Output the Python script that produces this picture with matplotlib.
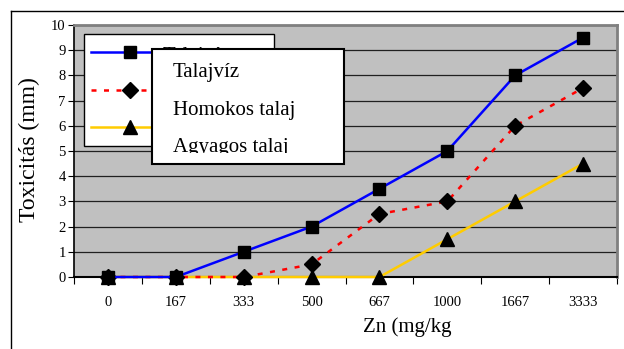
import numpy as np
import matplotlib.pyplot as plt
from matplotlib.patches import Rectangle
from matplotlib.lines import Line2D
from matplotlib.transforms import Bbox, TransformedBbox

plt.rcParams['font.family'] = 'Liberation Serif'

# Zn concentration classes and toxicity values (mm)
zn = ['0', '167', '333', '500', '667', '1000', '1667', '3333']
talajviz = [0, 0, 1, 2, 3.5, 5, 8, 9.5]
homokos = [0, 0, 0, 0.5, 2.5, 3, 6, 7.5]
agyagos = [0, 0, 0, 0, 0, 1.5, 3, 4.5]
names = ['Talajvíz', 'Homokos talaj', 'Agyagos talaj']

W, H = 624, 349
fig = plt.figure(figsize=(W / 100, H / 100), dpi=100)

def fx(px):
    return px / W

def fy(py):
    return 1 - py / H

ax = fig.add_axes([fx(74), fy(277), fx(617) - fx(74), fy(25) - fy(277)])
ax.set_facecolor('#C0C0C0')
x = np.arange(len(zn))

styles = [
    dict(color='#0000FF', ls='-', marker='s', ms=8),
    dict(color='#FF0000', ls=(0, (2, 3)), marker='D', ms=8.5),
    dict(color='#FFCC00', ls='-', marker='^', ms=9.5),
]
series = [talajviz, homokos, agyagos]
for vals, st in zip(series[::-1], styles[::-1]):
    ax.plot(x, vals, color=st['color'], ls=st['ls'], lw=1.8, marker=st['marker'],
            ms=st['ms'], mfc='black', mec='black', clip_on=False, zorder=3)

ax.set_xlim(-0.5, len(zn) - 0.5)
ax.set_ylim(0, 10)
ax.set_yticks(range(0, 11))
ax.yaxis.grid(True, color='#202020', lw=0.9)
ax.set_axisbelow(True)
ax.tick_params(axis='y', direction='out', length=4, width=0.8, labelsize=10.5, pad=2)

# category boundaries carry the tick marks, labels sit between them
ax.set_xticks(np.arange(-0.5, len(zn), 1.0))
ax.set_xticklabels([])
ax.set_xticks(x, minor=True)
ax.set_xticklabels(zn, minor=True)
ax.tick_params(axis='x', which='major', direction='out', length=5, width=0.8)
ax.tick_params(axis='x', which='minor', length=0, labelsize=10.5, pad=14)

for side in ['top', 'right']:
    ax.spines[side].set_color('#808080')
    ax.spines[side].set_linewidth(2)
ax.spines['left'].set_color('black')
ax.spines['bottom'].set_color('black')
ax.spines['left'].set_linewidth(1.2)
ax.spines['bottom'].set_linewidth(1.5)

fig.text(fx(29), fy(150), 'Toxicitás (mm)', rotation=90, ha='center', va='center', fontsize=17)
fig.text(fx(407), fy(327), 'Zn (mg/kg', ha='center', va='center', fontsize=15)

# outer chart frame
fig.lines.append(Line2D([fx(11), fx(11)], [0, fy(11)], color='black', lw=1, transform=fig.transFigure))
fig.lines.append(Line2D([fx(11), 1], [fy(11), fy(11)], color='black', lw=1, transform=fig.transFigure))

# first legend box, mostly covered by the second one
fig.patches.append(Rectangle((fx(84), fy(146)), fx(274) - fx(84), fy(34) - fy(146),
                             transform=fig.transFigure, fc='white', ec='black', lw=1, zorder=5))
rows = [52, 90, 127]
for row, st in zip(rows, styles):
    fig.lines.append(Line2D([fx(91), fx(170)], [fy(row), fy(row)], color=st['color'], ls=st['ls'],
                            lw=1.8, transform=fig.transFigure, zorder=6))
    fig.lines.append(Line2D([fx(130)], [fy(row)], marker=st['marker'], ms=st['ms'], mfc='black',
                            mec='black', ls='none', transform=fig.transFigure, zorder=6))
peek = TransformedBbox(Bbox([[fx(152), fy(50)], [fx(274), fy(35)]]), fig.transFigure)
t0 = fig.text(fx(163), fy(56), names[0], ha='left', va='center', fontsize=15, zorder=6)
t0.set_clip_box(peek)
t0.set_clip_on(True)

# second legend box on top
fig.patches.append(Rectangle((fx(152), fy(164)), fx(344) - fx(152), fy(49) - fy(164),
                             transform=fig.transFigure, fc='white', ec='black', lw=1.5, zorder=7))
clip = TransformedBbox(Bbox([[fx(152), fy(153)], [fx(344), fy(49)]]), fig.transFigure)
for row, name in zip([73, 110, 147], names):
    t = fig.text(fx(173), fy(row), name, ha='left', va='center', fontsize=15, zorder=8)
    t.set_clip_box(clip)
    t.set_clip_on(True)

fig.savefig('out.png', dpi=100)
